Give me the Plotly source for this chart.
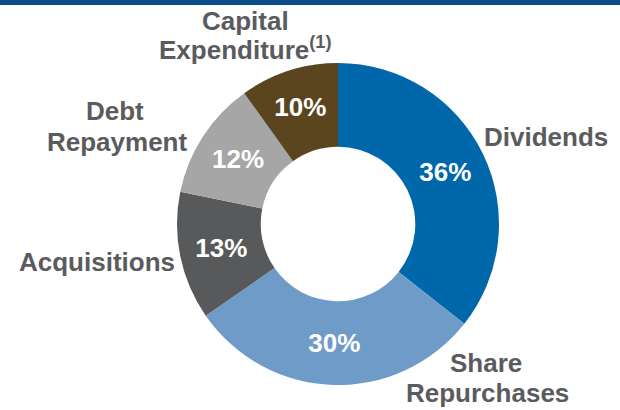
import plotly.graph_objects as go

categories = ["Dividends", "Share Repurchases", "Acquisitions", "Debt Repayment", "Capital Expenditure"]
values = [36, 30, 13, 12, 10]
pct_labels = [f"{v}%" for v in values]
colors = ["#0067AB", "#6F9BC8", "#58595B", "#A6A6A6", "#5A451F"]

TEXT_GRAY = "#5A5B5E"
FONT = "Arial, Liberation Sans, sans-serif"
W, H = 620, 410

# pie placement (pixels)
cx, cy, r = 338, 224, 161

fig = go.Figure(go.Pie(
    labels=categories,
    values=values,
    text=pct_labels,
    textinfo="text",
    textposition="inside",
    insidetextorientation="horizontal",
    textfont=dict(family=FONT, size=26, color="white", weight="bold"),
    marker=dict(colors=colors, line=dict(width=0)),
    hole=0.48,
    sort=False,
    direction="clockwise",
    rotation=0,
    showlegend=False,
    hoverinfo="label+percent",
    domain=dict(x=[(cx - r) / W, (cx + r) / W], y=[1 - (cy + r) / H, 1 - (cy - r) / H]),
))

# outside category labels (pixel centres)
outside = [
    ("Dividends", 546, 137),
    ("Share", 486, 363),
    ("Repurchases", 487, 393),
    ("Acquisitions", 97, 262),
    ("Debt", 115, 111),
    ("Repayment", 117, 142),
    ("Capital", 245, 21),
    ("Expenditure<sup>(1)</sup>", 245, 48),
]
for txt, x, y in outside:
    fig.add_annotation(
        text=txt, x=x / W, y=1 - y / H, xref="paper", yref="paper",
        xanchor="center", yanchor="middle", showarrow=False,
        font=dict(family=FONT, size=26, color=TEXT_GRAY, weight="bold"),
    )

fig.add_shape(type="rect", xref="paper", yref="paper", x0=0, x1=1,
              y0=1 - 5 / H, y1=1, fillcolor="#0A4D8A", line=dict(width=0))

fig.update_layout(
    width=W, height=H,
    margin=dict(l=0, r=0, t=0, b=0),
    paper_bgcolor="white", plot_bgcolor="white",
)

fig.write_html("out.html", config={"displayModeBar": False},
               post_script="document.body.style.margin='0';document.body.style.overflow='hidden';")
